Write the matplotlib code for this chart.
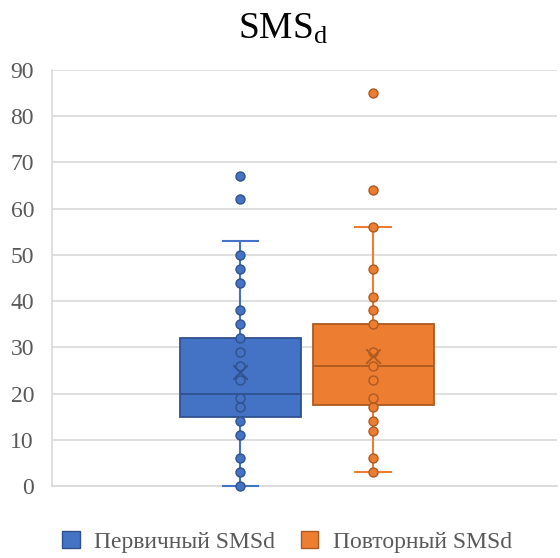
import matplotlib
matplotlib.use("Agg")
import matplotlib.pyplot as plt
from matplotlib.patches import Patch

plt.rcParams["font.family"] = ["Liberation Serif", "DejaVu Serif"]
plt.rcParams["mathtext.fontset"] = "custom"
plt.rcParams["mathtext.rm"] = "Liberation Serif"
plt.rcParams["mathtext.it"] = "Liberation Serif"

# --- data ------------------------------------------------------------------
series = ["Первичный SMSd", "Повторный SMSd"]

first_points = [0, 3, 6, 11, 14, 17, 19, 23, 26, 29, 32, 35, 38, 44, 47, 50, 62, 67]
repeat_points = [3, 6, 12, 14, 17, 19, 23, 26, 29, 35, 38, 41, 47, 56, 64, 85]

q1 = [15, 17.5]
median = [20, 26]
q3 = [32, 35]
whisker_lo = [0, 3]
whisker_hi = [53, 56]
means = [24.7, 28.2]

yticks = list(range(0, 100, 10))

# --- styling ---------------------------------------------------------------
FILL = ["#4472C4", "#ED7D31"]
EDGE = ["#2F528F", "#AE5A21"]
GRID = "#D9D9D9"
TEXT = "#595959"

positions = [0.373, 0.636]
box_w = 0.24
cap_w = 0.071

fig = plt.figure(figsize=(5.6, 5.58), dpi=100)
ax = fig.add_axes([0.093, 0.129, 0.902, 0.7455])

all_points = [first_points, repeat_points]
for i in range(2):
    stats = [{
        "q1": q1[i], "med": median[i], "q3": q3[i],
        "whislo": whisker_lo[i], "whishi": whisker_hi[i],
        "mean": means[i], "fliers": [],
    }]
    parts = ax.bxp(
        stats, positions=[positions[i]], widths=box_w, patch_artist=True,
        showmeans=False, showfliers=False, manage_ticks=False,
        boxprops=dict(facecolor=FILL[i], edgecolor=EDGE[i], linewidth=1.3),
        medianprops=dict(color=EDGE[i], linewidth=1.3),
        whiskerprops=dict(color=FILL[i], linewidth=1.5),
        capprops=dict(color=FILL[i], linewidth=1.5),
        capwidths=cap_w,
    )
    for cap in parts["caps"]:
        cap.set_clip_on(False)
        cap.set_zorder(3)
    ax.scatter([positions[i]] * len(all_points[i]), all_points[i], s=42,
               facecolor=FILL[i], edgecolor=EDGE[i], linewidth=1.0, zorder=4,
               clip_on=False)
    ax.scatter([positions[i]], [means[i]], marker="x", s=110,
               color=EDGE[i], linewidth=1.3, zorder=5)

ax.set_xlim(0, 1)
ax.set_ylim(0, 90)
ax.set_yticks(yticks)
ax.set_xticks([])
ax.grid(True, axis="y", color=GRID, linewidth=1.2, zorder=0)
ax.set_axisbelow(True)
for side in ["top", "right"]:
    ax.spines[side].set_visible(False)
for side in ["left", "bottom"]:
    ax.spines[side].set_color(GRID)
    ax.spines[side].set_linewidth(1.2)
ax.tick_params(axis="y", length=0, pad=13, labelsize=17, labelcolor=TEXT)

fig.text(0.505, 0.930, r"$\mathrm{SMS}_\mathrm{d}$", ha="center",
         va="baseline", fontsize=27, color="black")

handles = [Patch(facecolor=FILL[i], edgecolor=EDGE[i], label=series[i]) for i in range(2)]
fig.legend(handles=handles, loc="center", bbox_to_anchor=(0.512, 0.029), ncol=2,
           frameon=False, fontsize=17, labelcolor=TEXT, handlelength=0.75,
           handleheight=0.75, handletextpad=0.6, columnspacing=1.1)

fig.savefig("out.png", dpi=100)
